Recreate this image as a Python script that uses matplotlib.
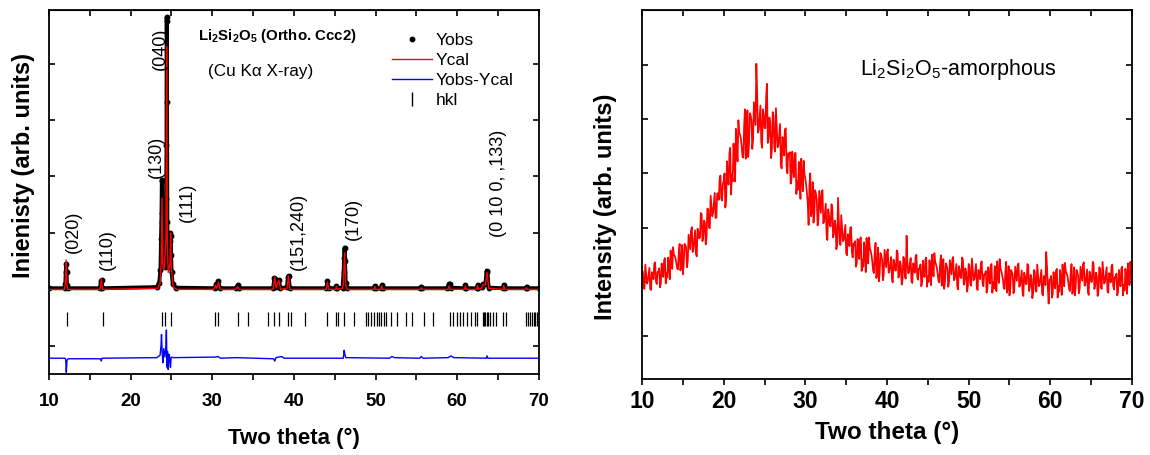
import numpy as np
import matplotlib
matplotlib.use("Agg")
import matplotlib.pyplot as plt

plt.rcParams["font.family"] = ["Liberation Sans", "DejaVu Sans"]
plt.rcParams["mathtext.fontset"] = "custom"
plt.rcParams["mathtext.rm"] = "Liberation Sans"
plt.rcParams["mathtext.it"] = "Liberation Sans:italic"
plt.rcParams["mathtext.bf"] = "Liberation Sans:bold"

# --- crystalline Li2Si2O5, Rietveld fit (left panel) ---
yobs_tt = [10.0, 11.9, 12.0, 12.05, 12.1, 12.15, 12.2, 12.3,
           16.25, 16.35, 16.45, 16.55,
           23.2, 23.5, 23.65, 23.72, 23.78, 23.82, 23.86, 23.9, 23.96, 24.05,
           24.15, 24.25, 24.32, 24.36, 24.39, 24.41, 24.43, 24.46, 24.5, 24.56,
           24.65, 24.75, 24.82, 24.88, 24.92, 24.96, 25.02, 25.15, 25.5,
           30.3, 30.45, 30.6, 30.75, 30.9, 32.9, 33.1, 33.3,
           37.45, 37.6, 37.7, 37.85, 38.15, 38.35, 39.15, 39.25, 39.35, 39.5,
           43.95, 44.1, 44.25, 45.1, 45.2, 45.3,
           45.95, 46.08, 46.14, 46.2, 46.26, 46.34, 46.5,
           49.8, 49.9, 50.0, 50.65, 50.75, 50.85, 55.5, 55.6, 55.7,
           58.8, 58.95, 59.1, 59.25, 60.9, 61.0, 61.1, 62.4, 62.5, 62.6,
           63.0, 63.15, 63.45, 63.6, 63.7, 63.85, 65.6, 65.7, 65.8,
           68.4, 68.5, 68.6, 70.0]
yobs = [0.02, 0.02, 0.1, 0.3, 0.45, 0.3, 0.08, 0.02,
        0.02, 0.14, 0.16, 0.02,
        0.04, 0.12, 0.35, 0.9, 1.35, 1.94, 1.92, 1.2, 0.6, 0.45,
        0.4, 0.55, 1.0, 1.6, 2.55, 4.82, 4.76, 3.32, 1.2, 0.5,
        0.4, 0.5, 0.85, 1.0, 0.95, 0.6, 0.3, 0.1, 0.03,
        0.02, 0.09, 0.06, 0.14, 0.02, 0.02, 0.07, 0.02,
        0.02, 0.2, 0.18, 0.05, 0.16, 0.02, 0.04, 0.22, 0.24, 0.02,
        0.02, 0.14, 0.02, 0.02, 0.06, 0.02,
        0.03, 0.3, 0.55, 0.74, 0.5, 0.12, 0.02,
        0.02, 0.06, 0.02, 0.02, 0.07, 0.02, 0.02, 0.05, 0.02,
        0.02, 0.09, 0.1, 0.03, 0.02, 0.07, 0.02, 0.02, 0.08, 0.02,
        0.04, 0.1, 0.1, 0.33, 0.3, 0.03, 0.02, 0.08, 0.02,
        0.02, 0.05, 0.02, 0.02]

ycal_tt = [10.0, 11.9, 12.0, 12.1, 12.2, 12.3, 16.25, 16.4, 16.55,
           23.3, 23.6, 23.75, 23.84, 23.93, 24.1, 24.33, 24.41, 24.49, 24.6,
           24.82, 24.9, 24.98, 25.2, 25.6,
           30.2, 30.4, 30.5, 30.6, 30.75, 30.95, 32.9, 33.1, 33.3,
           37.45, 37.65, 37.8, 38.15, 38.35, 39.15, 39.32, 39.5,
           43.95, 44.1, 44.25, 45.1, 45.2, 45.3, 45.95, 46.05, 46.2, 46.35, 46.5,
           49.8, 49.9, 50.0, 50.65, 50.75, 50.85, 55.5, 55.6, 55.7,
           58.85, 59.0, 59.15, 60.9, 61.0, 61.1, 62.4, 62.5, 62.6,
           63.0, 63.1, 63.45, 63.65, 63.85, 65.6, 65.7, 65.8,
           68.4, 68.5, 68.6, 70.0]
ycal = [0.0, 0.0, 0.1, 0.52, 0.08, 0.0, 0.0, 0.18, 0.0,
        0.02, 0.1, 0.5, 1.62, 0.45, 0.35, 0.9, 4.30, 0.85, 0.3,
        0.45, 1.0, 0.4, 0.05, 0.0,
        0.0, 0.07, 0.02, 0.04, 0.13, 0.0, 0.0, 0.05, 0.0,
        0.0, 0.22, 0.03, 0.16, 0.0, 0.02, 0.24, 0.0,
        0.0, 0.13, 0.0, 0.0, 0.05, 0.0, 0.02, 0.1, 0.65, 0.08, 0.0,
        0.0, 0.05, 0.0, 0.0, 0.06, 0.0, 0.0, 0.03, 0.0,
        0.0, 0.06, 0.0, 0.0, 0.06, 0.0, 0.0, 0.07, 0.0,
        0.02, 0.08, 0.08, 0.30, 0.02, 0.0, 0.07, 0.0,
        0.0, 0.03, 0.0, 0.0]

diff_tt = [10.0, 11.95, 12.05, 12.12, 12.2, 12.35, 16.3, 16.4, 16.5,
           23.2, 23.6, 23.72, 23.78, 23.86, 23.95, 24.05, 24.2, 24.32, 24.38,
           24.45, 24.52, 24.6, 24.7, 24.8, 24.88, 24.96, 25.2,
           30.4, 30.7, 31.0, 33.0, 37.5, 37.65, 37.8, 38.5, 38.8, 39.3,
           46.05, 46.15, 46.22, 46.35, 51.7, 52.0, 52.3, 55.4, 55.6, 55.8,
           58.9, 59.2, 59.6, 63.55, 63.65, 63.75, 70.0]
diff = [-1.22, -1.22, -1.24, -1.47, -1.26, -1.23, -1.23, -1.27, -1.22,
        -1.21, -1.17, -1.0, -0.8, -1.12, -1.3, -1.05, -1.2, -1.0, -0.72,
        -1.38, -1.1, -1.42, -1.15, -1.25, -1.38, -1.2, -1.21,
        -1.2, -1.19, -1.22, -1.21, -1.23, -1.27, -1.21, -1.19, -1.22, -1.22,
        -1.22, -1.08, -1.14, -1.21, -1.22, -1.19, -1.21, -1.22, -1.19, -1.22,
        -1.21, -1.18, -1.21, -1.22, -1.18, -1.22, -1.22]

hkl_tt = [12.19, 16.56, 23.81, 24.25, 24.99, 30.37, 30.76, 33.17, 34.39,
          36.88, 37.58, 38.19, 39.33, 39.63, 41.38, 44.09, 45.10, 45.40,
          46.19, 47.41, 48.81, 49.12, 49.47, 49.77, 50.12, 50.43, 50.69,
          51.00, 51.30, 51.87, 52.66, 53.71, 54.41, 55.89, 57.03, 59.08,
          59.43, 59.96, 60.39, 60.70, 61.14, 61.70, 62.14, 62.45, 63.11,
          63.32, 63.45, 63.59, 63.76, 63.98, 64.33, 64.77, 65.64, 65.94,
          68.48, 68.70, 68.92, 69.13, 69.35, 69.57, 69.79]

peak_labels = ["(020)", "(110)", "(130)", "(040)", "(111)",
               "(151,240)", "(170)", "(0 10 0, ,133)"]
peak_label_tt = [12.97, 17.1, 23.2, 23.7, 27.0, 40.5, 47.3, 65.0]
peak_label_y = [1.02, 0.70, 2.34, 4.26, 1.55, 1.03, 1.25, 1.87]

# --- amorphous Li2Si2O5 (right panel) ---
# scan points at 10.0, 10.2, ... 70.0
amorph_even = [
    1.21, 0.89, 1.32, 0.97, 1.13,  0.87, 1.18, 1.05, 1.36, 0.96,
    1.18, 0.90, 1.34, 1.09, 1.44,  1.16, 1.45, 1.05, 1.38, 1.64,
    1.48, 1.35, 1.23, 1.70, 1.31,  1.14, 1.70, 1.63, 1.39, 1.73,
    1.95, 1.55, 1.78, 1.52, 1.98,  1.80, 2.27, 1.75, 2.13, 1.69,
    2.35, 2.00, 2.59, 2.21, 2.46,  2.18, 2.63, 2.51, 2.96, 2.50,
    2.86, 2.37, 3.22, 2.79, 3.47,  2.98, 3.55, 2.85, 3.47, 3.98,
    3.72, 3.50, 3.29, 4.18, 3.46,  3.30, 4.11, 3.98, 3.62, 4.11,
    5.02, 3.75, 4.03, 3.57, 4.18,  3.84, 4.42, 3.56, 4.03, 3.28,
    4.13, 3.47, 4.20, 3.48, 3.71,  3.16, 3.67, 3.33, 3.83, 3.00,
    3.33, 2.81, 3.40, 2.93, 3.38,  2.86, 3.21, 2.53, 2.92, 3.23,
    2.90, 2.63, 2.05, 3.00, 2.31,  2.09, 2.69, 2.51, 2.15, 2.48,
    2.66, 2.08, 2.28, 1.87, 2.34,  2.04, 2.43, 1.82, 2.13, 1.60,
    2.55, 1.73, 2.23, 1.75, 1.91,  1.53, 1.88, 1.66, 2.01, 1.45,
    1.69, 1.28, 1.79, 1.42, 1.82,  1.41, 1.73, 1.18, 1.54, 1.82,
    1.57, 1.37, 1.16, 1.72, 1.17,  1.01, 1.53, 1.41, 1.13, 1.42,
    1.56, 1.17, 1.32, 1.06, 1.41,  1.21, 1.58, 1.08, 1.38, 0.95,
    1.46, 1.09, 1.85, 1.16, 1.33,  1.01, 1.34, 1.17, 1.50, 1.04,
    1.25, 0.92, 1.39, 1.09, 1.45,  1.10, 1.40, 0.94, 1.27, 1.53,
    1.32, 1.16, 0.99, 1.49, 1.02,  0.87, 1.34, 1.24, 1.00, 1.27,
    1.42, 1.03, 1.19, 0.93, 1.29,  1.08, 1.45, 0.95, 1.25, 0.82,
    1.33, 0.96, 1.43, 1.03, 1.20,  0.89, 1.22, 1.05, 1.38, 0.92,
    1.13, 0.80, 1.27, 0.97, 1.33,  0.99, 1.29, 0.83, 1.16, 1.42,
    1.20, 1.04, 0.87, 1.37, 0.90,  0.75, 1.22, 1.12, 0.88, 1.15,
    1.30, 0.91, 1.07, 0.81, 1.17,  0.96, 1.33, 0.83, 1.13, 0.70,
    1.22, 0.85, 1.32, 0.92, 1.09,  0.78, 1.11, 0.94, 1.27, 0.60,
    1.04, 0.71, 1.18, 0.88, 1.24,  0.92, 1.22, 0.76, 1.09, 1.35,
    1.16, 1.00, 0.83, 1.33, 0.86,  0.75, 1.22, 1.12, 0.88, 1.15,
    1.32, 0.93, 1.09, 0.83, 1.19,  1.00, 1.37, 0.87, 1.17, 0.74,
    1.27, 0.90, 1.37, 0.97, 1.14,  0.83, 1.16, 0.99, 1.32, 0.86,
    1.08, 0.75, 1.22, 0.92, 1.28,  0.94, 1.24, 0.78, 1.11, 1.37,
    0.93,
]
# scan points at 10.1, 10.3, ... 69.9
amorph_odd = [
    1.19, 0.87, 1.15, 1.01, 1.26,  0.85, 1.16, 1.33, 1.01, 1.18,
    1.25, 0.97, 1.17, 1.40, 0.97,  1.08, 1.31, 1.58, 1.24, 1.50,
    1.43, 1.25, 1.54, 1.21, 1.68,  1.31, 1.68, 1.27, 1.87, 1.60,
    2.01, 1.61, 1.95, 1.47, 1.93,  1.82, 2.25, 1.85, 2.09, 1.83,
    2.34, 1.99, 2.39, 2.27, 2.64,  2.18, 2.63, 2.89, 2.54, 2.80,
    3.00, 2.51, 2.91, 3.37, 2.61,  2.85, 3.31, 3.82, 3.22, 3.74,
    3.64, 3.31, 3.87, 3.27, 4.16,  3.54, 4.07, 3.45, 4.31, 3.89,
    4.47, 3.80, 4.25, 3.47, 4.08,  3.83, 4.65, 3.66, 3.91, 3.43,
    4.06, 3.40, 3.85, 3.52, 3.91,  3.09, 3.58, 3.81, 3.14, 3.37,
    3.39, 2.88, 3.09, 3.36, 2.62,  2.70, 2.97, 3.27, 2.67, 2.98,
    2.79, 2.43, 2.79, 2.21, 2.84,  2.25, 2.62, 2.04, 2.68, 2.27,
    2.69, 2.11, 2.44, 1.77, 2.23,  2.02, 2.37, 1.89, 2.04, 1.70,
    2.13, 1.68, 1.99, 1.77, 2.05,  1.49, 1.84, 2.00, 1.55, 1.71,
    1.75, 1.34, 1.55, 1.79, 1.20,  1.28, 1.53, 1.81, 1.34, 1.62,
    1.50, 1.21, 1.54, 1.07, 1.63,  1.16, 1.49, 1.03, 1.59, 1.27,
    1.60, 1.20, 1.46, 0.99, 1.35,  1.21, 1.54, 1.14, 1.30, 1.03,
    1.43, 1.06, 1.36, 1.18, 1.44,  0.98, 1.31, 1.46, 1.10, 1.25,
    1.32, 0.99, 1.18, 1.41, 0.91,  1.00, 1.23, 1.50, 1.10, 1.37,
    1.26, 1.02, 1.32, 0.93, 1.42,  1.00, 1.30, 0.91, 1.40, 1.14,
    1.46, 1.06, 1.33, 0.86, 1.23,  1.07, 1.40, 1.01, 1.17, 0.91,
    1.30, 0.93, 1.23, 1.06, 1.33,  0.85, 1.18, 1.34, 0.98, 1.14,
    1.20, 0.87, 1.07, 1.30, 0.80,  0.88, 1.11, 1.38, 0.98, 1.25,
    1.13, 0.89, 1.19, 0.80, 1.29,  0.88, 1.18, 0.79, 1.28, 1.02,
    1.34, 0.94, 1.21, 0.74, 1.11,  0.96, 1.29, 0.90, 1.06, 0.80,
    1.19, 0.82, 1.12, 0.95, 1.22,  0.75, 1.08, 1.55, 0.88, 1.04,
    1.11, 0.78, 0.98, 1.21, 0.71,  0.82, 1.05, 1.32, 0.92, 1.19,
    1.11, 0.87, 1.17, 0.78, 1.27,  0.88, 1.18, 0.79, 1.28, 1.02,
    1.36, 0.96, 1.23, 0.76, 1.13,  1.00, 1.33, 0.94, 1.10, 0.84,
    1.24, 0.87, 1.17, 1.00, 1.27,  0.80, 1.13, 1.29, 0.93, 1.09,
    1.15, 0.82, 1.02, 1.25, 0.75,  0.84, 1.07, 1.34, 0.94, 1.21,
]
amorph_tt = np.concatenate([np.linspace(10, 70, len(amorph_even)),
                            np.linspace(10.1, 69.9, len(amorph_odd))])
amorph = np.concatenate([amorph_even, amorph_odd])
order = np.argsort(amorph_tt)
amorph_tt, amorph = amorph_tt[order], amorph[order]

fig = plt.figure(figsize=(11.5, 4.55), dpi=100)
ax = fig.add_axes([0.0426, 0.178, 0.426, 0.80])
ax2 = fig.add_axes([0.5583, 0.167, 0.426, 0.811])

# left panel
ax.plot(yobs_tt, yobs, color="k", lw=2.8, solid_joinstyle="round")
ax.plot(yobs_tt, yobs, "o", color="k", ms=3.2, label="Yobs")
ax.plot(ycal_tt, ycal, color="#ff0000", lw=1.0, label="Ycal")
ax.plot(diff_tt, diff, color="#0000ff", lw=1.0, label="Yobs-Ycal")
ax.vlines(hkl_tt, -0.65, -0.41, color="k", lw=0.9)
ax.plot([], [], "|", color="k", ms=10, mew=1.0, label="hkl")

for lab, x, y in zip(peak_labels, peak_label_tt, peak_label_y):
    ax.text(x, y, lab, rotation=90, ha="center", va="center", fontsize=13)

ax.text(0.304, 0.929, r"Li$_\mathbf{2}$Si$_\mathbf{2}$O$_\mathbf{5}$ (Ortho. Ccc2)",
        transform=ax.transAxes, fontsize=10.8, fontweight="bold", va="center")
ax.text(0.324, 0.832, "(Cu K\u03b1 X-ray)", transform=ax.transAxes,
        fontsize=12.3, va="center")

ax.legend(loc="upper left", bbox_to_anchor=(0.70, 0.937), frameon=False,
          fontsize=12.5, handlelength=2.3, handletextpad=0.2,
          labelspacing=0.27, borderpad=0, borderaxespad=0)

ax.set_xlim(10, 70)
ax.set_ylim(-1.5, 4.95)
ax.set_yticks([-1, 0, 1, 2, 3, 4])
ax.set_yticklabels([])
ax.set_xlabel("Two theta (\u00b0)", fontsize=16, fontweight="bold")
ax.set_ylabel("Inienisty (arb. units)", fontsize=17, fontweight="bold")
ax.xaxis.set_label_coords(0.5, -0.176)
ax.xaxis.label.set_va("center")
ax.yaxis.set_label_coords(-0.053, 0.574)
ax.yaxis.label.set_va("center")

# right panel
ax2.plot(amorph_tt, amorph, color="#ff0000", lw=1.25)
ax2.text(0.445, 0.824, r"Li$_2$Si$_2$O$_5$-amorphous", transform=ax2.transAxes,
         fontsize=15.5, va="baseline")
ax2.set_xlim(10, 70)
ax2.set_ylim(-0.79, 6.01)
ax2.set_yticks([0, 1, 2, 3, 4, 5])
ax2.set_yticklabels([])
ax2.set_xlabel("Two theta (\u00b0)", fontsize=17.5, fontweight="bold")
ax2.set_ylabel("Intensity (arb. units)", fontsize=17, fontweight="bold")
ax2.xaxis.set_label_coords(0.5, -0.144)
ax2.xaxis.label.set_va("center")
ax2.yaxis.set_label_coords(-0.074, 0.467)
ax2.yaxis.label.set_va("center")

for a, lsize, pad in [(ax, 13.5, 10), (ax2, 16.5, 4)]:
    a.set_xticks(np.arange(10, 71, 10))
    a.set_xticks(np.arange(15, 70, 10), minor=True)
    a.tick_params(axis="x", which="both", direction="out", length=4,
                  width=1.2, labelsize=lsize, pad=pad)
    a.tick_params(axis="y", which="both", direction="in", left=True,
                  right=True, length=4, width=1.2)
    for lab in a.get_xticklabels():
        lab.set_fontweight("bold")
    for sp in a.spines.values():
        sp.set_linewidth(1.3)
    top = a.secondary_xaxis("top")
    top.set_xticks(np.arange(10, 71, 10))
    top.set_xticks(np.arange(15, 70, 10), minor=True)
    top.tick_params(axis="x", which="both", direction="in", length=4,
                    width=1.2, labeltop=False)

fig.savefig("out.png", dpi=100)
